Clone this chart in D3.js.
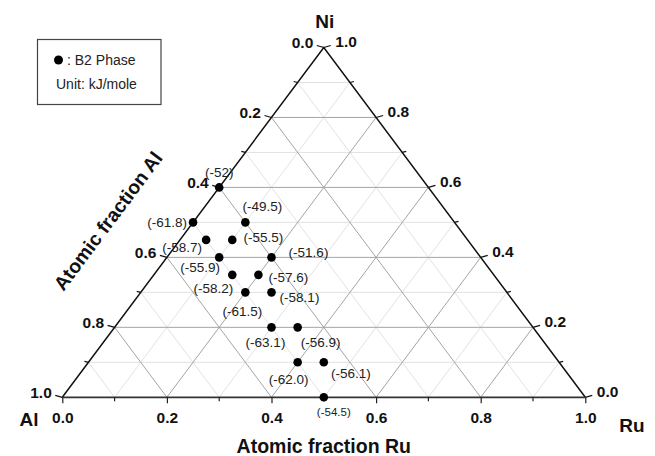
<!DOCTYPE html>
<html>
<head>
<meta charset="utf-8">
<script src="https://cdn.jsdelivr.net/npm/d3@7"></script>
<style>
  html, body { margin: 0; padding: 0; background: #fff; }
  svg { display: block; }
  text { font-family: "Liberation Sans", Arial, sans-serif; }
</style>
</head>
<body>
<svg id="chart" width="655" height="456"></svg>
<script>
// ---- data (atomic fractions of each B2 composition) ----
const fracAl = [0.4, 0.5, 0.4, 0.5, 0.45, 0.5, 0.4, 0.5, 0.45, 0.5, 0.45, 0.5, 0.45, 0.5, 0.45, 0.5];
const fracNi = [0.6, 0.5, 0.5, 0.45, 0.45, 0.4, 0.4, 0.35, 0.35, 0.3, 0.3, 0.2, 0.2, 0.1, 0.1, 0.0];
const fracRu = [0.0, 0.0, 0.1, 0.05, 0.1, 0.1, 0.2, 0.15, 0.2, 0.2, 0.25, 0.3, 0.35, 0.4, 0.45, 0.5];
const enthalpy = [-52, -61.8, -49.5, -58.7, -55.5, -55.9, -51.6, -58.2, -57.6, -61.5, -58.1, -63.1, -56.9, -62.0, -56.1, -54.5];
const enthalpyText = ["(-52)", "(-61.8)", "(-49.5)", "(-58.7)", "(-55.5)", "(-55.9)", "(-51.6)", "(-58.2)",
                      "(-57.6)", "(-61.5)", "(-58.1)", "(-63.1)", "(-56.9)", "(-62.0)", "(-56.1)", "(-54.5)"];
const tickValues = [0, 0.2, 0.4, 0.6, 0.8, 1.0];
const minorTickValues = [0.1, 0.3, 0.5, 0.7, 0.9];
const gridValues = [0.1, 0.2, 0.3, 0.4, 0.5, 0.6, 0.7, 0.8, 0.9];

// ---- layout (label placement relative to each point) ----
const labelOffsets = [[0,-15],[-26,0],[17,-16],[-24,7],[31,-3],[-19,10],[37,-5],[-19,13],
                      [30,2],[-3,19],[28,5],[-6,15],[23,15],[-9,17],[27,11],[10,15]];

const svg = d3.select("#chart");
const x = d3.scaleLinear().domain([0, 1]).range([62.3, 585.3]);
const y = d3.scaleLinear().domain([0, 1]).range([397.3, 47.5]);
const P = (al, ni, ru) => [x(ru + ni / 2), y(ni)];

// ---- grid ----
const gridG = svg.append("g");
function gridLines(t) {
  return [
    [P(1 - t, t, 0), P(0, t, 1 - t)],   // constant Ni
    [P(1 - t, 0, t), P(0, 1 - t, t)],   // constant Ru
    [P(t, 1 - t, 0), P(t, 0, 1 - t)]    // constant Al
  ];
}
const isMajor = t => Math.round(t * 10) % 2 === 0;
[false, true].forEach(major => {
  gridValues.filter(t => isMajor(t) === major).forEach(t => {
    gridLines(t).forEach(([a, b]) => {
      gridG.append("line")
        .attr("x1", a[0]).attr("y1", a[1]).attr("x2", b[0]).attr("y2", b[1])
        .attr("stroke", major ? "#a4a4a4" : "#e2e2e2")
        .attr("stroke-width", 1);
    });
  });
});

// ---- triangle outline ----
const A = P(1, 0, 0), N = P(0, 1, 0), R = P(0, 0, 1);
svg.append("path")
  .attr("d", d3.line()([A, N, R]))
  .attr("fill", "none").attr("stroke", "#111").attr("stroke-width", 1.5);
svg.append("line")
  .attr("x1", A[0]).attr("y1", A[1]).attr("x2", R[0]).attr("y2", R[1])
  .attr("stroke", "#333").attr("stroke-width", 1.8);

// ---- bottom axis (Ru) ----
const fmt = d3.format(".1f");
const tickFont = 15.5;
const bottomAxis = svg.append("g")
  .attr("transform", `translate(0,${y(0)})`)
  .call(d3.axisBottom(x).tickValues(tickValues).tickFormat(fmt).tickSize(6));
bottomAxis.select(".domain").remove();
bottomAxis.selectAll("line").attr("stroke", "#222").attr("stroke-width", 1.2);
bottomAxis.selectAll("text").attr("font-family", "Liberation Sans").attr("font-weight", "bold")
  .attr("font-size", tickFont).attr("fill", "#111").attr("y", 20).attr("dy", "0.35em");
svg.append("g").selectAll("line").data(minorTickValues).join("line")
  .attr("x1", d => x(d)).attr("x2", d => x(d))
  .attr("y1", y(0)).attr("y2", y(0) + 4)
  .attr("stroke", "#222").attr("stroke-width", 1.2);

// ---- left axis (Al) ----
const leftG = svg.append("g");
tickValues.forEach(t => {
  const p = P(t, 1 - t, 0);
  leftG.append("line").attr("x1", p[0]).attr("y1", p[1]).attr("x2", p[0] - 7).attr("y2", p[1] - 2)
    .attr("stroke", "#111").attr("stroke-width", 1.2);
  leftG.append("text").attr("x", p[0] - 10.5).attr("y", p[1] - 5).attr("dy", "0.35em")
    .attr("text-anchor", "end")
    .attr("font-weight", "bold").attr("font-size", tickFont).attr("fill", "#111").text(fmt(t));
});
minorTickValues.forEach(t => {
  const p = P(t, 1 - t, 0);
  leftG.append("line").attr("x1", p[0]).attr("y1", p[1]).attr("x2", p[0] - 4).attr("y2", p[1] - 1)
    .attr("stroke", "#111").attr("stroke-width", 1.2);
});

// ---- right axis (Ni) ----
const rightG = svg.append("g");
tickValues.forEach(t => {
  const p = P(0, t, 1 - t);
  rightG.append("line").attr("x1", p[0]).attr("y1", p[1]).attr("x2", p[0] + 7).attr("y2", p[1] - 2)
    .attr("stroke", "#111").attr("stroke-width", 1.2);
  rightG.append("text").attr("x", p[0] + 11.5).attr("y", p[1] - 5.5).attr("dy", "0.35em")
    .attr("text-anchor", "start")
    .attr("font-weight", "bold").attr("font-size", tickFont).attr("fill", "#111").text(fmt(t));
});
minorTickValues.forEach(t => {
  const p = P(0, t, 1 - t);
  rightG.append("line").attr("x1", p[0]).attr("y1", p[1]).attr("x2", p[0] + 4).attr("y2", p[1] - 1)
    .attr("stroke", "#111").attr("stroke-width", 1.2);
});

// ---- corner & axis titles ----
const bold = (sel) => sel.attr("font-weight", "bold").attr("fill", "#111");
bold(svg.append("text").attr("x", N[0] + 1).attr("y", 21).attr("dy", "0.35em").attr("text-anchor", "middle")
  .attr("font-size", 19).text("Ni"));
bold(svg.append("text").attr("x", 29).attr("y", 419).attr("dy", "0.35em").attr("text-anchor", "middle")
  .attr("font-size", 19).text("Al"));
bold(svg.append("text").attr("x", 632).attr("y", 425).attr("dy", "0.35em").attr("text-anchor", "middle")
  .attr("font-size", 19).text("Ru"));
bold(svg.append("text").attr("x", x(0.5)).attr("y", 446).attr("dy", "0.35em").attr("text-anchor", "middle")
  .attr("font-size", 19.5).text("Atomic fraction Ru"));
const edgeAngle = Math.atan2(N[1] - A[1], N[0] - A[0]) * 180 / Math.PI;
bold(svg.append("text").attr("transform", `translate(108,221) rotate(${edgeAngle})`)
  .attr("text-anchor", "middle").attr("dy", "0.35em")
  .attr("font-size", 19.5).text("Atomic fraction Al"));

// ---- data points ----
const pts = enthalpy.map((v, i) => ({
  v, label: enthalpyText[i], p: P(fracAl[i], fracNi[i], fracRu[i]), off: labelOffsets[i], i
}));
svg.append("g").selectAll("circle").data(pts).join("circle")
  .attr("cx", d => d.p[0]).attr("cy", d => d.p[1]).attr("r", 4.3).attr("fill", "#000");
svg.append("g").selectAll("text").data(pts).join("text")
  .attr("x", d => d.p[0] + d.off[0]).attr("y", d => d.p[1] + d.off[1]).attr("dy", "0.35em")
  .attr("text-anchor", "middle")
  .attr("font-size", d => d.i === pts.length - 1 ? 11.5 : 13.5)
  .attr("fill", "#222").text(d => d.label);

// ---- legend ----
const lg = svg.append("g");
lg.append("rect").attr("x", 37.5).attr("y", 39.5).attr("width", 123.5).attr("height", 65)
  .attr("fill", "#fff").attr("stroke", "#444").attr("stroke-width", 1.2);
lg.append("circle").attr("cx", 58.5).attr("cy", 60).attr("r", 4.5).attr("fill", "#000");
lg.append("text").attr("x", 67).attr("y", 60).attr("dy", "0.35em")
  .attr("font-size", 14).attr("fill", "#222").text(": B2 Phase");
lg.append("text").attr("x", 56).attr("y", 84).attr("dy", "0.35em")
  .attr("font-size", 14).attr("fill", "#222").text("Unit: kJ/mole");
</script>
</body>
</html>
